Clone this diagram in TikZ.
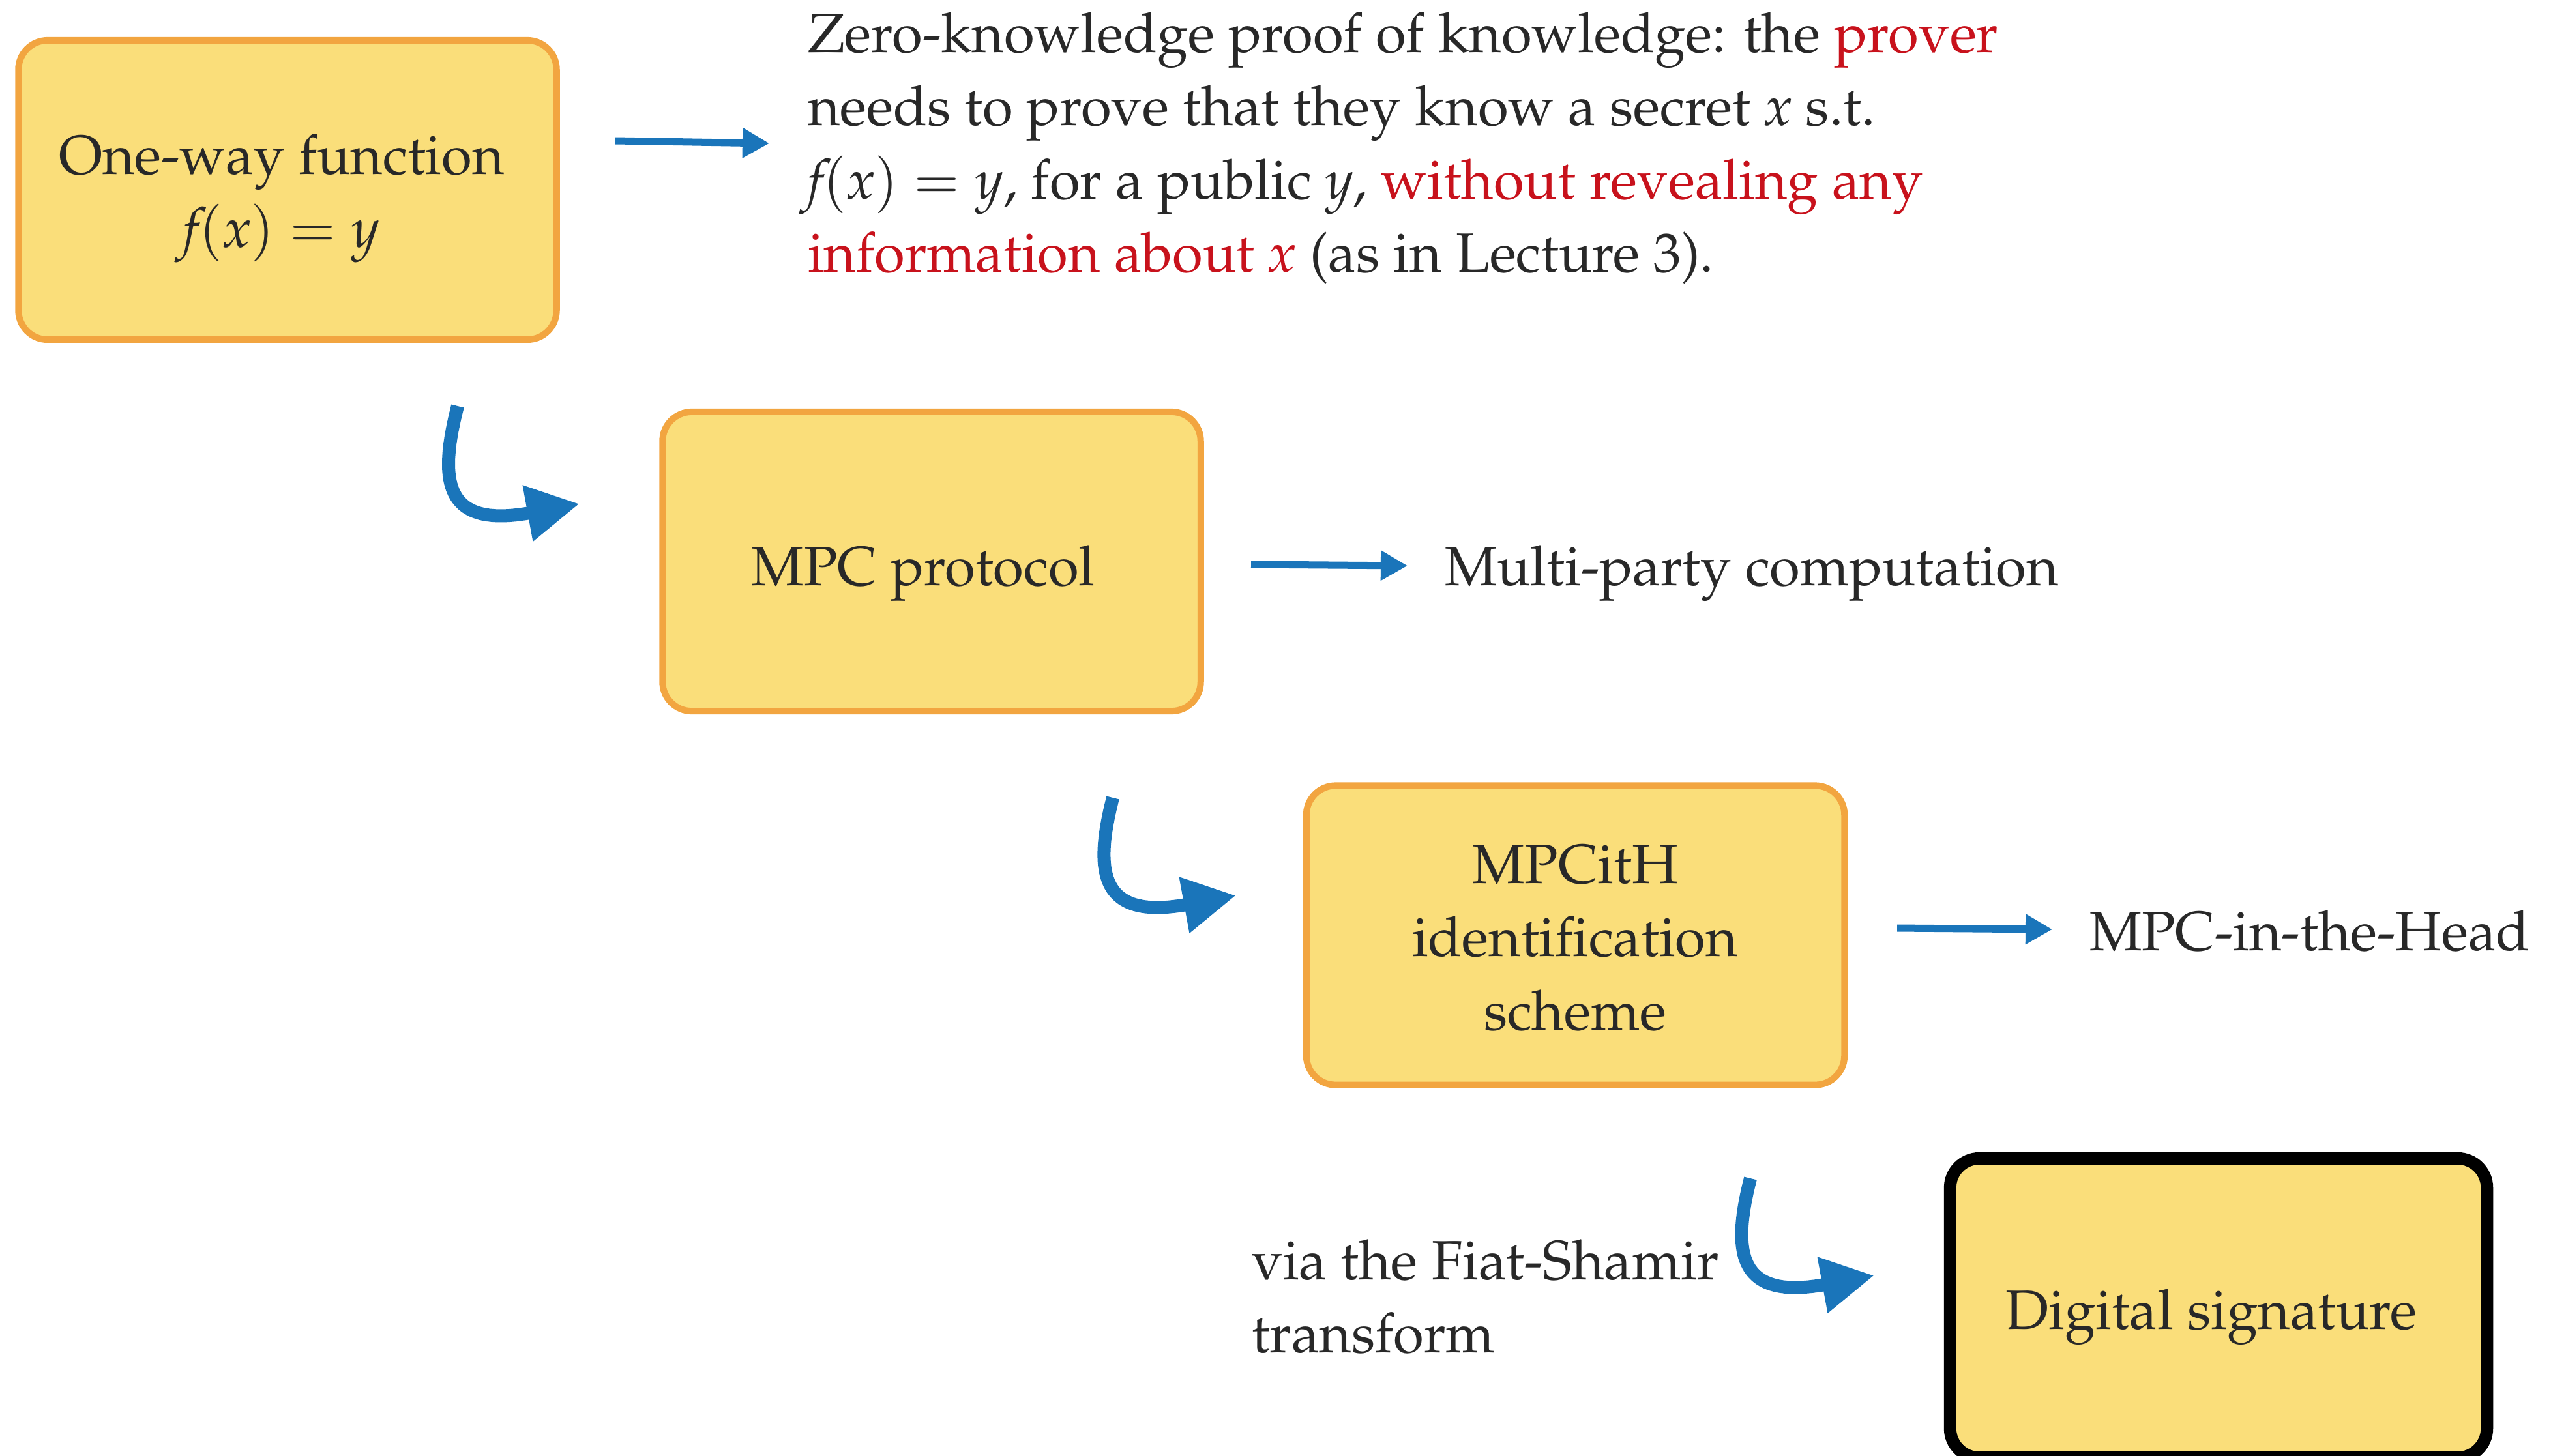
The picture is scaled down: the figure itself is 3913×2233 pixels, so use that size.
\documentclass[tikz,border=0pt]{standalone}
\usepackage[T1]{fontenc}
\usepackage{mathpazo}
\usetikzlibrary{arrows.meta,calc}

\definecolor{boxfill}{RGB}{250,222,122}
\definecolor{boxline}{RGB}{242,165,64}
\definecolor{arrowblue}{RGB}{26,117,186}
\definecolor{hlred}{RGB}{200,18,28}
\definecolor{ink}{RGB}{40,40,40}

% italic letters set like running text
\newcommand{\iv}[1]{\textit{#1}}

\begin{document}
\begin{tikzpicture}[x=0.01cm,y=-0.01cm,
  every node/.style={inner sep=0pt, outer sep=0pt, text=ink,
    font=\fontsize{24.2}{32}\selectfont},
  box/.style={draw=boxline, fill=boxfill, line width=2.85pt,
    rounded corners=12.8pt, minimum width=8.25cm, minimum height=4.59cm},
  finalbox/.style={box, draw=black, line width=5.4pt, minimum width=8.23cm},
  lefttext/.style={anchor=base west},
  boxtext/.style={anchor=base},
  flat/.style={draw=arrowblue, line width=3.13pt,
    -{Triangle[length=11.7pt,width=12.5pt]}},
  curvy/.style={draw=arrowblue, line width=5.7pt,
    -{Triangle[length=23pt,width=23.3pt]}},
]
\useasboundingbox (0,0) rectangle (3913,2233);

% boxes of the chain
\node[box] (b1) at (441,291.5) {};
\node[box] (b2) at (1429,861.5) {};
\node[box] (b3) at (2416.5,1435) {};
\node[finalbox] (b4) at (3403,2007) {};

% box captions
\node[boxtext] (b1t) at (432,267)
  {\begin{tabular}[t]{@{}c@{}}One-way function\\ $\iv{f}(\iv{x})=\iv{y}$\end{tabular}};
\node[boxtext] (b2t) at (1416,898) {MPC protocol};
\node[boxtext] (b3t) at (2416,1355)
  {\begin{tabular}[t]{@{}c@{}}MPCitH\\ identification\\ scheme\end{tabular}};
\node[boxtext] (b4t) at (3392,2039) {Digital signature};

% explanations on the right
\node[lefttext] (zk) at (1239,80)
  {\begin{tabular}[t]{@{}l@{}}
   Zero-knowledge proof of knowledge: the \textcolor{hlred}{prover}\\
   needs to prove that they know a secret \iv{x} s.t.\\
   $\iv{f}(\iv{x})=\iv{y}$, for a public \iv{y}, \textcolor{hlred}{without revealing any}\\
   \textcolor{hlred}{information about \iv{x}} (as in Lecture 3).
   \end{tabular}};
\node[lefttext] (mpc) at (2216,898) {Multi-party computation};
\node[lefttext] (itH) at (3205,1458) {MPC-in-the-Head};
\node[lefttext] (fs) at (1920,1963)
  {\begin{tabular}[t]{@{}l@{}}via the Fiat-Shamir\\ transform\end{tabular}};

% straight arrows to the explanations
\coordinate (a1s) at (944,216);
\coordinate (a1e) at (1180,220);
\coordinate (a2s) at (1919,866);
\coordinate (a2e) at (2159,868);
\coordinate (a3s) at (2910,1424);
\coordinate (a3e) at (3148,1426);
\draw[flat] (a1s) -- (a1e);
\draw[flat] (a2s) -- (a2e);
\draw[flat] (a3s) -- (a3e);

% hooked arrows down the chain
\coordinate (h1s) at (702,623);
\coordinate (h1e) at (889,773);
\coordinate (h2s) at (1707,1224);
\coordinate (h2e) at (1896,1374);
\coordinate (h3s) at (2685,1808);
\coordinate (h3e) at (2875,1957);
\foreach \h in {1,2,3}
  \draw[curvy] (h\h s) .. controls ($(h\h s)+(-30,117)$)
    and ($(h\h e)+(-207,38)$) .. (h\h e);
\end{tikzpicture}
\end{document}
